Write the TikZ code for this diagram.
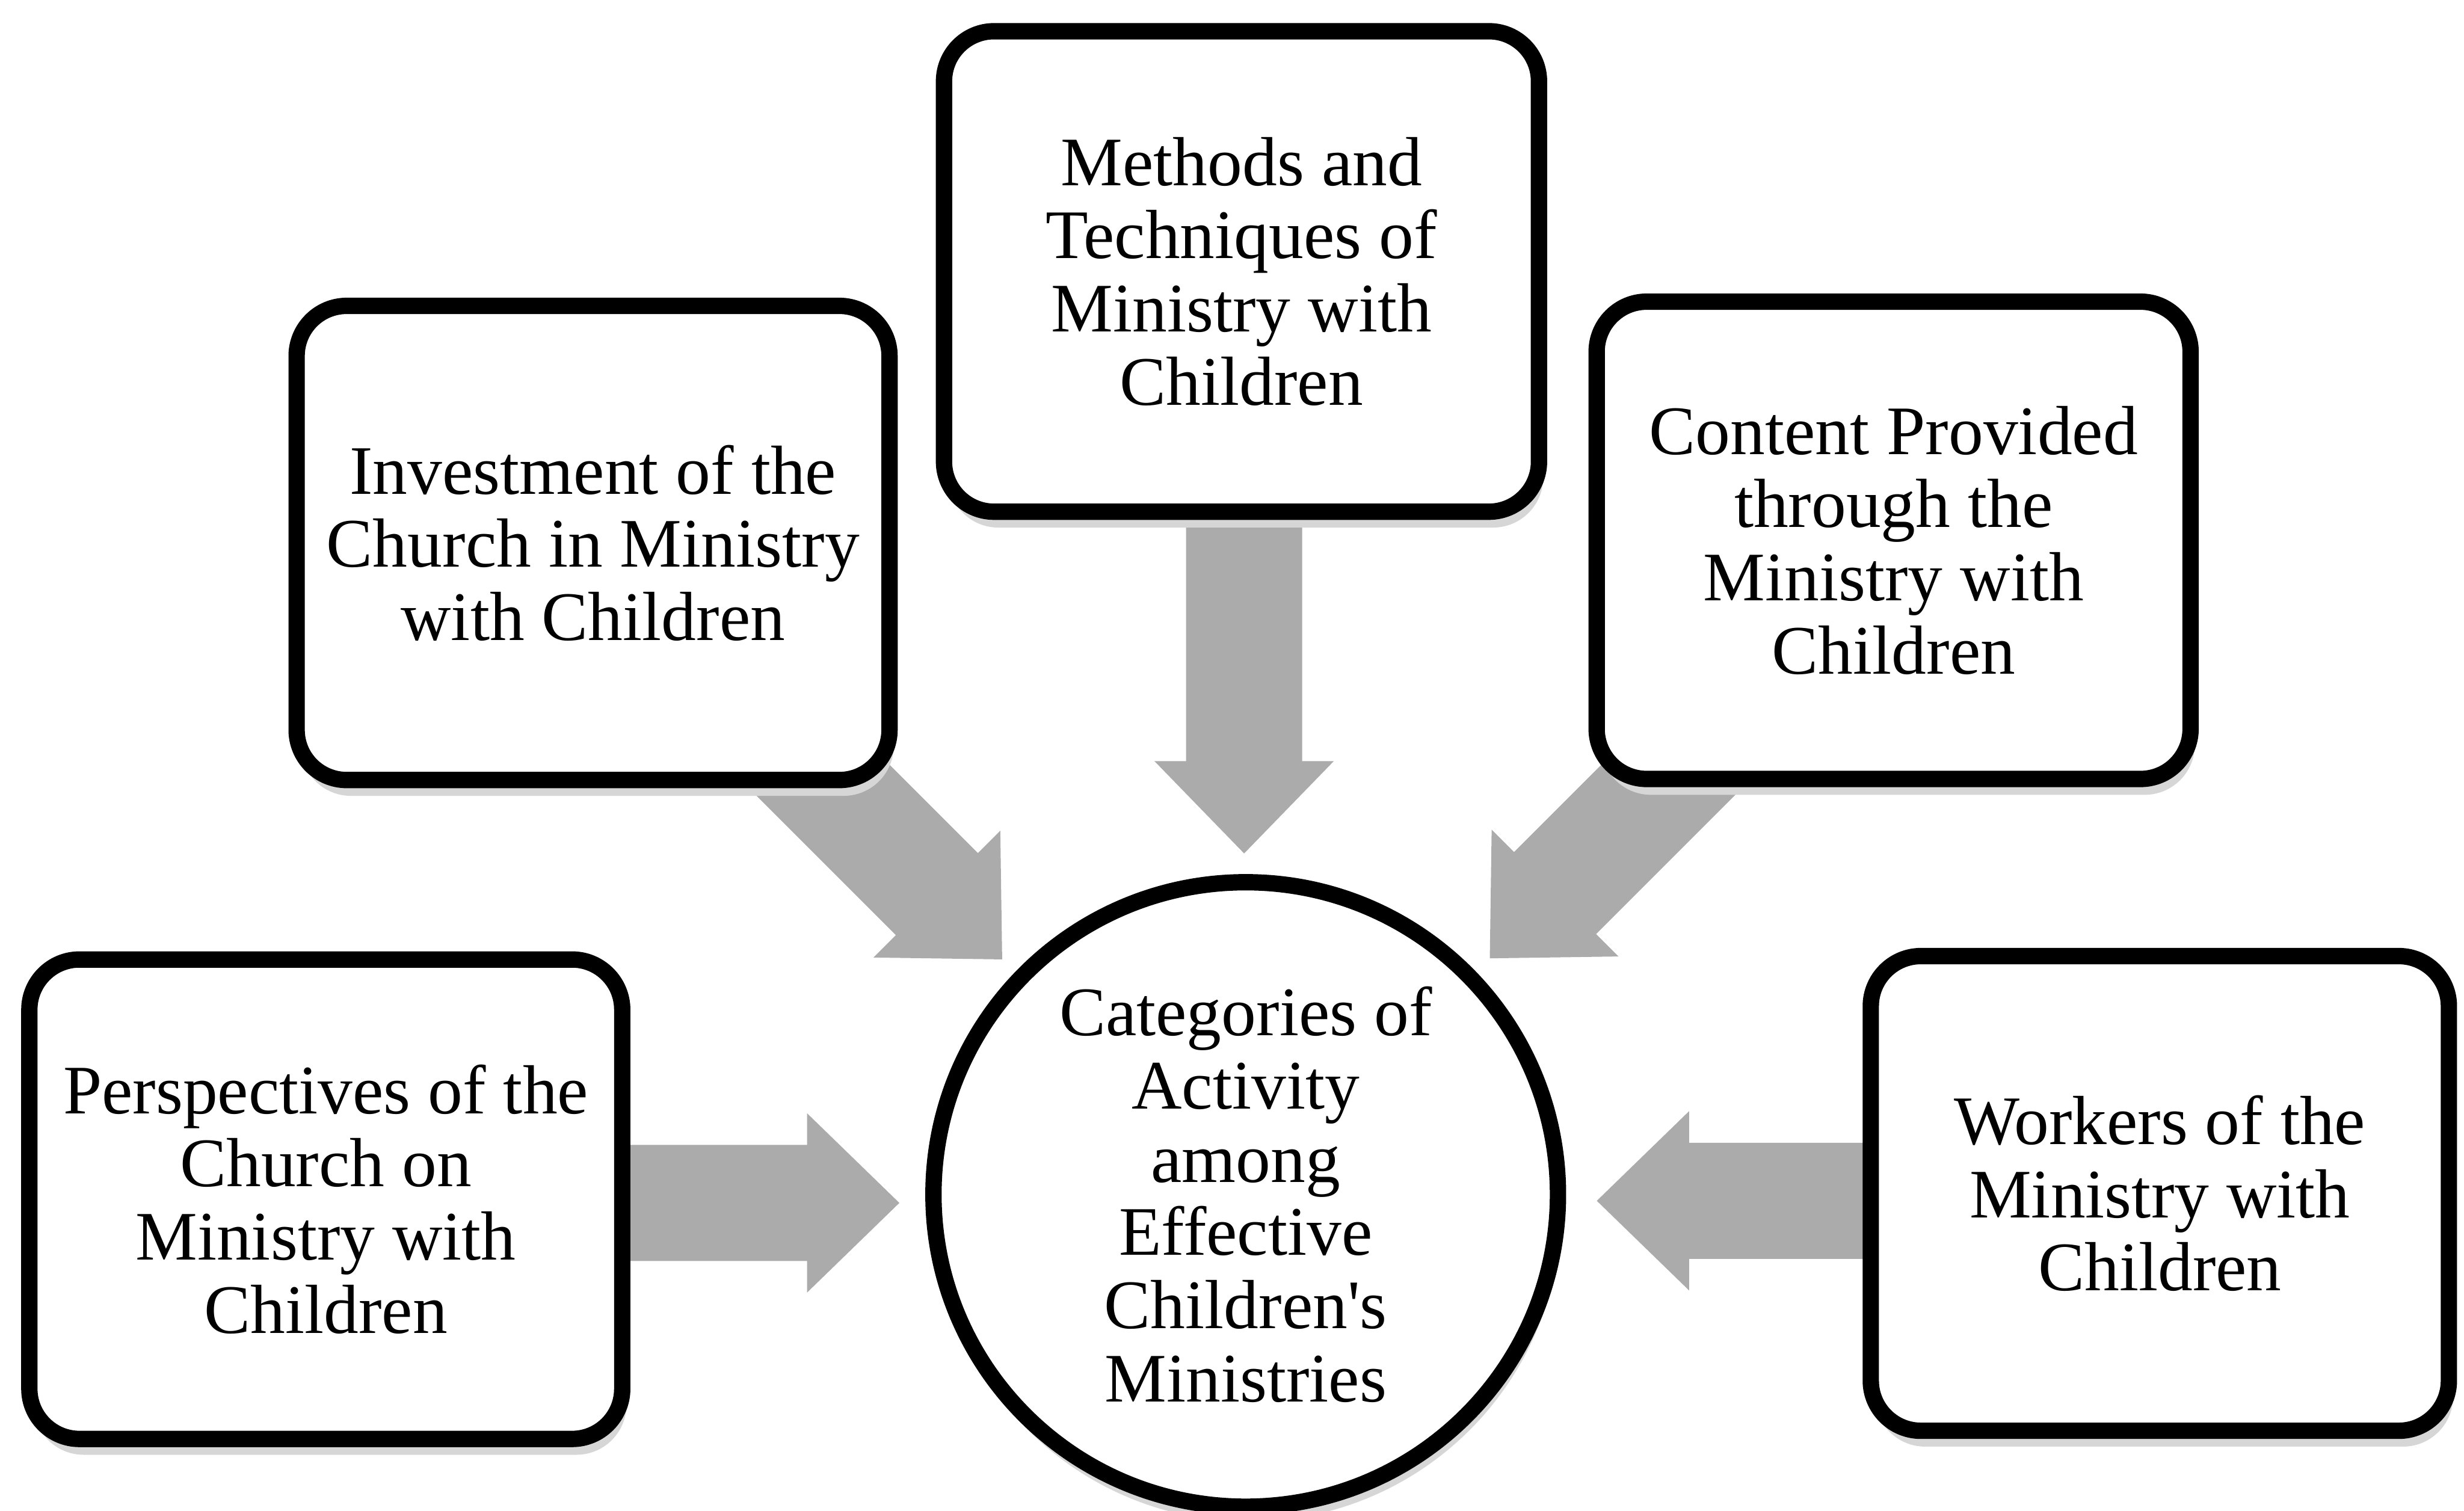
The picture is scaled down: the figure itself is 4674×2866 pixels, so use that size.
\documentclass[tikz,border=0pt]{standalone}
\usepackage{fontspec}
\setmainfont{Liberation Serif}
\usetikzlibrary{calc,backgrounds,shadows}

\tikzset{
  textfont/.style={font=\fontsize{37.5}{39.5}\selectfont},
  frame/.style={rectangle, draw=black, line width=0.31cm, fill=white,
    rounded corners=0.95cm, align=center, inner sep=0pt, textfont,
    drop shadow={shadow xshift=0.08cm, shadow yshift=-0.3cm, fill=black!16, opacity=1}},
  hub/.style={circle, draw=black, line width=0.31cm, fill=white,
    minimum size=11.84cm, align=center, inner sep=0pt, textfont,
    drop shadow={shadow xshift=0.06cm, shadow yshift=-0.28cm, fill=black!16, opacity=1}},
  arrowfill/.style={fill=black!33}
}

% broad block arrow from #1 to the tip #2 (shaft half-width 1.1cm, head half-width 1.7cm)
\newcommand\blockarrow[2]{%
  \path ($(#2)!1.75cm!(#1)$) coordinate (hb);
  \fill[arrowfill] ($(#1)!1.1cm!90:(#2)$) -- ($(hb)!1.1cm!-90:(#1)$)
    -- ($(hb)!1.7cm!-90:(#1)$) -- (#2) -- ($(hb)!1.7cm!90:(#1)$)
    -- ($(hb)!1.1cm!90:(#1)$) -- ($(#1)!1.1cm!-90:(#2)$) -- cycle;
}

\begin{document}
\begin{tikzpicture}[x=0.01cm, y=-0.01cm]
  \useasboundingbox (0,0) rectangle (4674,2866);

  % the five sources
  \node[frame, minimum width=11.28cm, minimum height=9.11cm] (meth) at (2355,515)
    {Methods and\\Techniques of\\Ministry with\\Children};
  \node[frame, minimum width=11.24cm, minimum height=8.99cm] (inv) at (1125,1030)
    {Investment of the\\Church in Ministry\\with Children};
  \node[frame, minimum width=11.26cm, minimum height=9.05cm] (cont) at (3592,1025)
    {Content Provided\\through the\\Ministry with\\Children};
  \node[frame, minimum width=11.24cm, minimum height=9.09cm] (persp) at (618,2275)
    {Perspectives of the\\Church on\\Ministry with\\Children};
  \node[frame, minimum width=10.96cm, minimum height=9.00cm] (work) at (4097,2264)
    {Workers of the\\Ministry with\\Children};

  % the centre
  \node[hub] (hub) at (2363,2266)
    {Categories of\\Activity\\among\\Effective\\Children\textquotesingle s\\Ministries};

  % arrow tips in front of the centre
  \coordinate (tipP) at (1706,2282);
  \coordinate (tipW) at (3029,2278);
  \coordinate (tipM) at (2360,1619);
  \coordinate (tipI) at (1901,1820);
  \coordinate (tipC) at (2826,1818);

  \begin{pgfonlayer}{background}
    \fill[white] (0,0) rectangle (4674,2866);
    \blockarrow{persp.center |- tipP}{tipP}
    \blockarrow{work.center |- tipW}{tipW}
    \blockarrow{meth.center -| tipM}{tipM}
    \blockarrow{$(tipI)+(-700,-700)$}{tipI}
    \blockarrow{$(tipC)+(700,-700)$}{tipC}
  \end{pgfonlayer}
\end{tikzpicture}
\end{document}
